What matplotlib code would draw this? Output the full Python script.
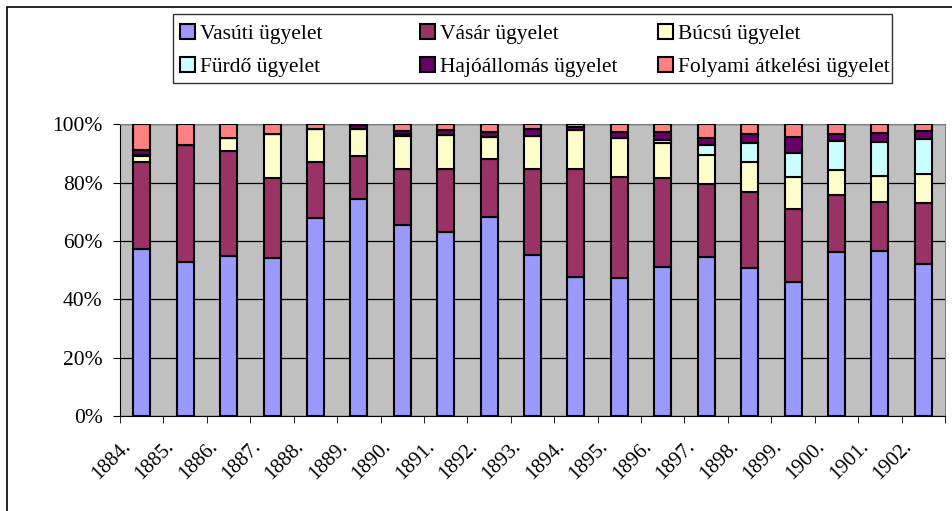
import matplotlib.pyplot as plt
import numpy as np
from matplotlib.patches import Rectangle
from matplotlib.transforms import ScaledTranslation

plt.rcParams['font.family'] = ['Liberation Serif', 'DejaVu Serif']

years = ['1884.', '1885.', '1886.', '1887.', '1888.', '1889.', '1890.',
         '1891.', '1892.', '1893.', '1894.', '1895.', '1896.', '1897.',
         '1898.', '1899.', '1900.', '1901.', '1902.']

# shares in percent
vasuti = [57.1, 52.6, 54.9, 54.1, 67.9, 74.4, 65.6, 62.9, 68.3, 55.1,
          47.7, 47.4, 51.1, 54.6, 50.8, 46.0, 56.3, 56.4, 52.1]
vasar = [30.0, 40.2, 36.0, 27.5, 19.0, 14.7, 19.2, 21.6, 19.6, 29.7,
         36.8, 34.6, 30.3, 24.9, 26.0, 24.8, 19.4, 16.8, 21.0]
bucsu = [1.9, 0.0, 4.5, 14.9, 11.3, 9.1, 11.1, 11.7, 7.8, 11.1,
         13.4, 13.1, 12.0, 10.1, 10.1, 11.2, 8.5, 9.1, 9.7]
furdo = [0.6, 0.0, 0.0, 0.0, 0.0, 0.0, 0.7, 0.0, 0.0, 0.0,
         0.0, 0.0, 1.3, 3.2, 6.8, 8.0, 10.0, 11.6, 12.0]
hajo = [1.5, 0.0, 0.0, 0.0, 0.0, 1.6, 1.1, 1.7, 1.7, 2.3,
        1.0, 2.2, 2.6, 2.3, 2.9, 5.7, 2.4, 3.2, 2.9]
folyami = [8.9, 7.2, 4.6, 3.5, 1.8, 0.2, 2.3, 2.1, 2.6, 1.8,
           1.1, 2.7, 2.7, 4.9, 3.4, 4.3, 3.4, 2.9, 2.3]

series = [
    ('Vasúti ügyelet', vasuti, '#9999FF'),
    ('Vásár ügyelet', vasar, '#993366'),
    ('Búcsú ügyelet', bucsu, '#FFFFCC'),
    ('Fürdő ügyelet', furdo, '#CCFFFF'),
    ('Hajóállomás ügyelet', hajo, '#660066'),
    ('Folyami átkelési ügyelet', folyami, '#FF8080'),
]

fig = plt.figure(figsize=(9.53, 5.11), dpi=100)
ax = fig.add_axes([0.126, 0.186, 0.8656, 0.571])
ax.set_facecolor('#C0C0C0')

x = np.arange(len(years))
bottom = np.zeros(len(years))
handles = []
for name, vals, color in series:
    vals = np.array(vals)
    b = ax.bar(x, vals, 0.39, bottom=bottom, color=color, edgecolor='black',
               linewidth=1.5, label=name, zorder=3)
    handles.append(b)
    bottom += vals

ax.set_xlim(-0.5, len(years) - 0.5)
ax.set_ylim(0, 100)
ax.set_yticks(range(0, 101, 20))
ax.set_yticklabels([f'{v}%' for v in range(0, 101, 20)], fontsize=15.5)
ax.yaxis.grid(True, color='black', linewidth=0.9, zorder=0)
ax.set_axisbelow(True)

ax.set_xticks(x)
ax.set_xticklabels(years, rotation=45, ha='right', va='center',
                   rotation_mode='anchor', fontsize=15)
ax.set_xticks(np.arange(len(years) + 1) - 0.5, minor=True)
ax.tick_params(axis='x', which='major', length=0, pad=20)
ax.tick_params(axis='x', which='minor', length=5, direction='out')
ax.tick_params(axis='y', length=5, direction='out', pad=7.5)
shift = ScaledTranslation(-0.14, 0, fig.dpi_scale_trans)
for lbl in ax.get_xticklabels():
    lbl.set_transform(lbl.get_transform() + shift)

for side in ['top', 'right']:
    ax.spines[side].set_color('#808080')
for side in ['left', 'bottom']:
    ax.spines[side].set_color('black')

# legend: three columns placed like the original, one box around them
col_x = [180 / 953, 420 / 953, 658 / 953]
for c in range(3):
    idx = [c, c + 3]
    fig.legend([handles[i] for i in idx], [series[i][0] for i in idx],
               loc='center left', bbox_to_anchor=(col_x[c], 1 - 50.5 / 511),
               fontsize=15.5, frameon=False, handlelength=0.7,
               handleheight=0.7, handletextpad=0.25, borderpad=0,
               labelspacing=0.62, borderaxespad=0)

fig.patches.append(Rectangle((173 / 953, 1 - 83 / 511), 719 / 953, 69 / 511,
                             transform=fig.transFigure, fill=False,
                             edgecolor='#333333', linewidth=1.0))
fig.patches.append(Rectangle((7 / 953, -0.05), 1.1, 1.05 - 7 / 511,
                             transform=fig.transFigure, fill=False,
                             edgecolor='black', linewidth=1.2))

fig.savefig('out.png', dpi=100)
